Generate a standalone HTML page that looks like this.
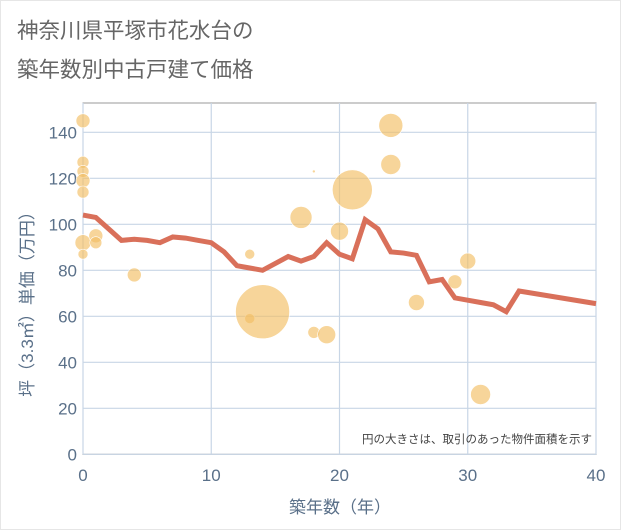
<!DOCTYPE html>
<html><head><meta charset="utf-8"><style>
body{margin:0;background:#fff;font-family:"Liberation Sans","Noto Sans CJK JP",sans-serif}
#wrap{position:relative;width:621px;height:530px;overflow:hidden}
</style></head><body><div id="wrap">
<svg id="chart" width="621" height="530"></svg>
</div>
<script>
const lineYears=[0,1,2,3,4,5,6,7,8,9,10,11,12,13,14,15,16,17,18,19,20,21,22,23,24,25,26,27,28,29,30,31,32,33,34,40];
const lineValues=[104,103,98,93,93.5,93,92,94.5,94,93,92,88,82,81,80,83,86,84,86,92,87,85,102,98,88,87.5,86.5,75,76,68,67,66,65,62,71,65.5];
const bubbleYears=[0,0,0,0,0,0,0,1,1,4,13,13,14,17,18,18,19,20,21,24,24,26,29,30,31];
const bubbleValues=[145,127,123,119,114,92,87,95,92,78,87,59,62,103,123,53,52,97,115,143,126,66,75,84,26];
const bubbleSizes=[7,6,6,7,6,8,5,7,6,7,5,5,27,11,1.5,6,9,9,20,12,10,8,7,8,10];
const xTicks=[0,10,20,30,40];
const yTicks=[0,20,40,60,80,100,120,140];
const NS="http://www.w3.org/2000/svg";
const svg=document.getElementById('chart');
const X0=83,X1=596,Y0=454.3,YT=103;
const xs=v=>X0+(X1-X0)*v/40;
const ys=v=>Y0-v*2.3;
function mk(t,a,p){const e=document.createElementNS(NS,t);for(const k in a)e.setAttribute(k,a[k]);(p||svg).appendChild(e);return e;}
let e;
e=mk('rect',{x:0.5,y:0.5,width:620,height:529,fill:'#fff',stroke:'#e6e6e6'});


e=mk('text',{x:17,y:38,'font-size':21.5,fill:'#666'});e.textContent='神奈川県平塚市花水台の';


e=mk('text',{x:17,y:77,'font-size':21.5,fill:'#666'});e.textContent='築年数別中古戸建て価格';


e=mk('rect',{x:X0,y:YT,width:X1-X0,height:Y0-YT,fill:'#fff',stroke:'#999'});


yTicks.forEach(v=>{
 e=mk('line',{x1:X0,x2:X1,y1:ys(v),y2:ys(v),stroke:'#c8d6e6','stroke-width':1.2});
 
 
 e=mk('text',{x:77,y:ys(v)+6,'font-size':17,fill:'#5a7089','text-anchor':'end'});e.textContent=v;
 
 
});
xTicks.forEach(v=>{
 e=mk('line',{x1:xs(v),x2:xs(v),y1:YT,y2:Y0,stroke:'#c8d6e6','stroke-width':1.2});
 
 
 e=mk('text',{x:xs(v),y:481,'font-size':17,fill:'#5a7089','text-anchor':'middle'});e.textContent=v;
 
 
});
bubbleYears.forEach((y,i)=>{
 e=mk('circle',{cx:xs(y),cy:ys(bubbleValues[i]),r:bubbleSizes[i],fill:'rgba(242,190,100,0.65)',stroke:'#fff','stroke-width':0.6});
 
 
});
e=mk('polyline',{points:lineYears.map((y,i)=>xs(y)+','+ys(lineValues[i])).join(' '),fill:'none',stroke:'#d9705a','stroke-width':5,'stroke-linejoin':'miter'});


e=mk('text',{x:592,y:443,'font-size':11.5,fill:'#444','text-anchor':'end'});e.textContent='円の大きさは、取引のあった物件面積を示す';


e=mk('text',{x:340,y:513,'font-size':17,fill:'#5a7089','text-anchor':'middle'});e.textContent='築年数（年）';


e=mk('text',{x:0,y:0,'font-size':17,fill:'#5a7089','text-anchor':'middle',transform:'translate(33,300) rotate(-90)'});e.textContent='坪（3.3㎡）単価（万円）';


</script></body></html>
